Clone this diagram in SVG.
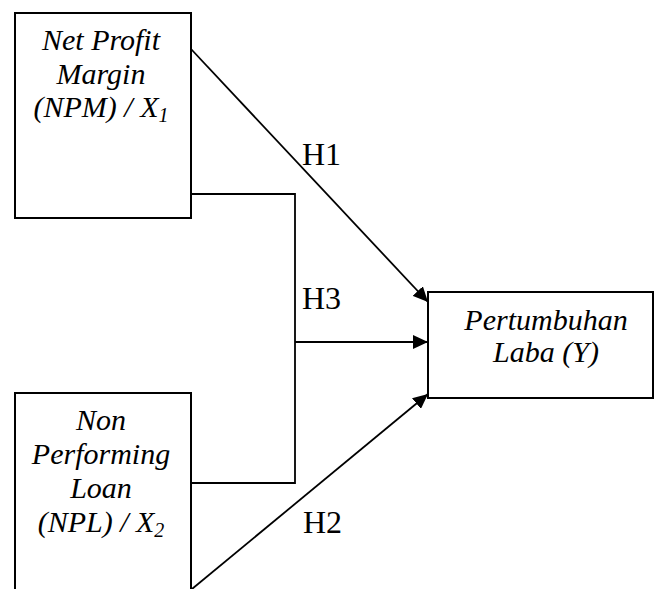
<svg xmlns="http://www.w3.org/2000/svg" width="656" height="589" viewBox="0 0 656 589">
  <defs>
    <style>
      .box { fill: #ffffff; stroke: #000000; stroke-width: 2; }
      .line { fill: none; stroke: #000000; stroke-width: 1.8; }
      .t { font-family: 'Liberation Serif', 'DejaVu Serif', serif; font-style: italic; font-size: 30px; fill: #000; text-anchor: middle; }
      .lbl { font-family: 'Liberation Serif', 'DejaVu Serif', serif; font-size: 32px; fill: #000; }
      .sub { font-size: 20px; }
    </style>
    <marker id="arrow" markerUnits="userSpaceOnUse" markerWidth="16" markerHeight="14" refX="15" refY="7" orient="auto">
      <path d="M0,0 L15,7 L0,14 Z" fill="#000"/>
    </marker>
  </defs>
  <rect width="656" height="589" fill="#ffffff"/>

  <g id="connectors">
    <line class="line" x1="191" y1="49" x2="428" y2="302" marker-end="url(#arrow)"/>
    <polyline class="line" points="191,194 295,194 295,483 191,483"/>
    <line class="line" x1="295" y1="342" x2="428" y2="342" marker-end="url(#arrow)"/>
    <line class="line" x1="192" y1="589" x2="428" y2="394" marker-end="url(#arrow)"/>
  </g>

  <g id="node-npm">
    <rect class="box" x="15" y="13" width="176" height="205"/>
    <text class="t" x="101" y="50">Net Profit</text>
    <text class="t" x="101" y="84">Margin</text>
    <text class="t" x="101" y="117">(NPM) / X<tspan class="sub" dy="5">1</tspan></text>
  </g>

  <g id="node-npl">
    <rect class="box" x="15" y="393" width="176" height="230"/>
    <text class="t" x="101" y="430">Non</text>
    <text class="t" x="101" y="464">Performing</text>
    <text class="t" x="101" y="498">Loan</text>
    <text class="t" x="101" y="532">(NPL) / X<tspan class="sub" dy="5">2</tspan></text>
  </g>

  <g id="node-laba">
    <rect class="box" x="428" y="292" width="225" height="106"/>
    <text class="t" x="546" y="330">Pertumbuhan</text>
    <text class="t" x="546" y="362">Laba (Y)</text>
  </g>

  <g id="labels">
    <text class="lbl" x="302" y="165">H1</text>
    <text class="lbl" x="302" y="309">H3</text>
    <text class="lbl" x="303" y="533">H2</text>
  </g>
</svg>
